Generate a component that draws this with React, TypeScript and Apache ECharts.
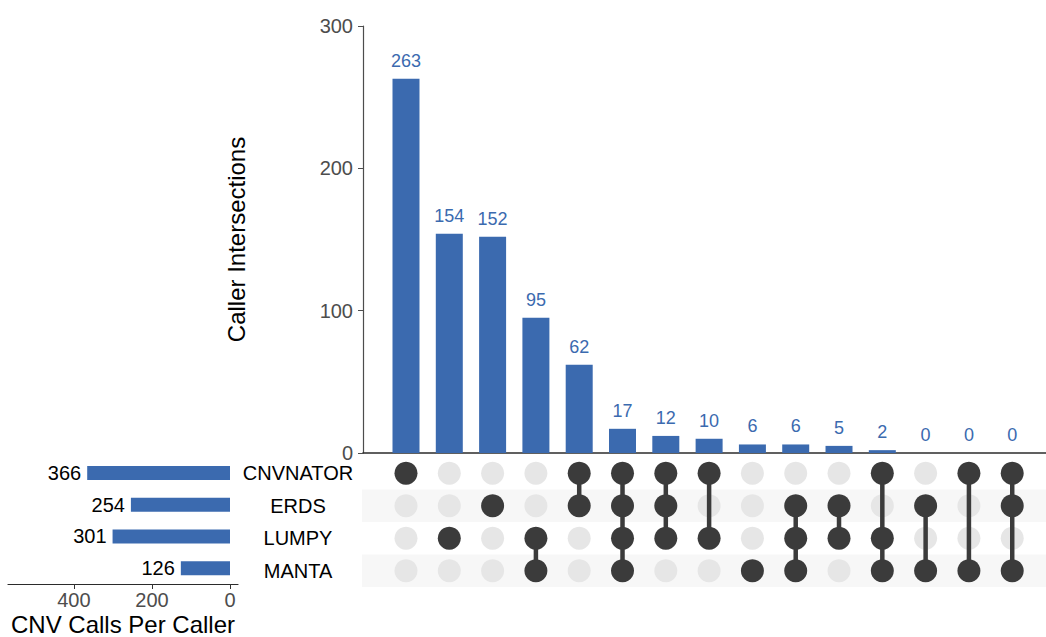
import React, { useEffect, useRef } from "react";
import * as echarts from "echarts";

const setNames = ["CNVNATOR", "ERDS", "LUMPY", "MANTA"];
const setSizes = [366, 254, 301, 126];
const intersectionCounts = [263, 154, 152, 95, 62, 17, 12, 10, 6, 6, 5, 2, 0, 0, 0];
// membership per intersection column: indices into setNames
const intersectionSets: number[][] = [
  [0],
  [2],
  [1],
  [2, 3],
  [0, 1],
  [0, 1, 2, 3],
  [0, 1, 2],
  [0, 2],
  [3],
  [1, 2, 3],
  [1, 2],
  [0, 2, 3],
  [1, 3],
  [0, 3],
  [0, 1, 3],
];
const topTicks = [0, 100, 200, 300];
const leftTicks = [0, 200, 400];

const BLUE = "#3b6aaf";
const DARK = "#3b3b3b";
const LIGHT = "#e6e6e6";
const FONT = "'Liberation Sans', Arial, Helvetica, sans-serif";

export default function App() {
  const ref = useRef<HTMLDivElement>(null);
  useEffect(() => {
    if (!ref.current) return;
    const chart = echarts.init(ref.current, null, { renderer: "svg" });
    const xMin = 0.007;
    const xMax = 15.78;

    const dotsDark: number[][] = [];
    const dotsLight: number[][] = [];
    intersectionSets.forEach((sets, i) => {
      setNames.forEach((_, r) => {
        if (sets.includes(r)) dotsDark.push([i + 1, r]);
        else dotsLight.push([i + 1, r]);
      });
    });
    const connectors = intersectionSets
      .map((sets, i) => [i + 1, Math.min(...sets), Math.max(...sets)])
      .filter((d) => d[1] !== d[2]);

    const option: any = {
      animation: false,
      textStyle: { fontFamily: FONT },
      grid: [
        { left: 363, top: 26, width: 683, height: 427 },
        { left: 363, top: 457, width: 683, height: 130 },
        { left: 8, top: 457, width: 230, height: 130 },
      ],
      xAxis: [
        {
          gridIndex: 0,
          type: "value",
          min: xMin,
          max: xMax,
          axisLine: { show: true, onZero: false, lineStyle: { color: "#2b2b2b", width: 1.6 } },
          axisTick: { show: false },
          axisLabel: { show: false },
          splitLine: { show: false },
        },
        {
          gridIndex: 1,
          type: "value",
          min: xMin,
          max: xMax,
          show: false,
          splitLine: { show: false },
        },
        {
          gridIndex: 2,
          type: "value",
          inverse: true,
          min: -20.5,
          max: 569,
          axisLine: { show: true, onZero: false, lineStyle: { color: "#2b2b2b", width: 1.2 } },
          axisTick: {
            show: true,
            length: 5,
            customValues: leftTicks,
            lineStyle: { color: "#333" },
          },
          axisLabel: {
            show: true,
            customValues: leftTicks,
            fontSize: 20,
            color: "#4d4d4d",
            margin: 6,
            fontFamily: FONT,
          },
          splitLine: { show: false },
          name: "CNV Calls Per Caller",
          nameLocation: "middle",
          nameGap: 28,
          nameTextStyle: { fontSize: 24, color: "#000", fontFamily: FONT },
        },
      ],
      yAxis: [
        {
          gridIndex: 0,
          type: "value",
          min: 0,
          max: 300,
          interval: 100,
          axisLine: { show: true, onZero: false, lineStyle: { color: "#4d4d4d", width: 1.2 } },
          axisTick: { show: true, length: 5, lineStyle: { color: "#4d4d4d" } },
          axisLabel: { fontSize: 20, color: "#4d4d4d", margin: 10, fontFamily: FONT,
            formatter: (v: number) => (topTicks.includes(v) ? String(v) : "") },
          splitLine: { show: false },
          name: "Caller Intersections",
          nameLocation: "middle",
          nameGap: 115,
          nameTextStyle: { fontSize: 24, color: "#000", fontFamily: FONT },
        },
        {
          gridIndex: 1,
          type: "category",
          data: setNames,
          inverse: true,
          axisLine: { show: false },
          axisTick: { show: false },
          axisLabel: { fontSize: 20, color: "#000", align: "center", margin: 65, fontFamily: FONT },
          splitLine: { show: false },
        },
        {
          gridIndex: 2,
          type: "category",
          data: setNames,
          inverse: true,
          show: false,
        },
      ],
      series: [
        {
          type: "bar",
          xAxisIndex: 0,
          yAxisIndex: 0,
          barWidth: 27,
          itemStyle: { color: BLUE },
          data: intersectionCounts.map((v, i) => [i + 1, v]),
          label: {
            show: true,
            position: "top",
            distance: 9,
            color: BLUE,
            fontSize: 18,
            fontFamily: FONT,
            formatter: (p: any) => String(p.value[1]),
          },
        },
        {
          type: "custom",
          xAxisIndex: 1,
          yAxisIndex: 1,
          z: 0,
          silent: true,
          data: [
            [1, 1],
            [1, 3],
          ],
          renderItem: (params: any, api: any) => {
            const cs = params.coordSys;
            const yc = api.coord([api.value(0), api.value(1)])[1];
            const h = api.size([0, 1])[1];
            return {
              type: "rect",
              shape: { x: cs.x - 1, y: yc - h / 2, width: cs.width + 1, height: h },
              style: { fill: "#f7f7f7" },
            };
          },
        },
        {
          type: "scatter",
          xAxisIndex: 1,
          yAxisIndex: 1,
          z: 2,
          symbolSize: 23,
          itemStyle: { color: LIGHT, opacity: 1 },
          data: dotsLight,
        },
        {
          type: "custom",
          xAxisIndex: 1,
          yAxisIndex: 1,
          z: 3,
          data: connectors,
          renderItem: (params: any, api: any) => {
            const p1 = api.coord([api.value(0), api.value(1)]);
            const p2 = api.coord([api.value(0), api.value(2)]);
            return {
              type: "line",
              shape: { x1: p1[0], y1: p1[1], x2: p2[0], y2: p2[1] },
              style: { stroke: DARK, lineWidth: 4.5 },
            };
          },
        },
        {
          type: "scatter",
          xAxisIndex: 1,
          yAxisIndex: 1,
          z: 4,
          symbolSize: 23,
          itemStyle: { color: DARK, opacity: 1 },
          data: dotsDark,
        },
        {
          type: "bar",
          xAxisIndex: 2,
          yAxisIndex: 2,
          barWidth: 14,
          itemStyle: { color: BLUE },
          data: setSizes,
          label: {
            show: true,
            position: "left",
            distance: 6,
            color: "#000",
            fontSize: 20,
            fontFamily: FONT,
          },
        },
      ],
    };
    chart.setOption(option);
    return () => chart.dispose();
  }, []);
  return (
    <div
      ref={ref}
      style={{ position: "fixed", left: 0, top: 0, width: 1046, height: 637, background: "#fff" }}
    />
  );
}
